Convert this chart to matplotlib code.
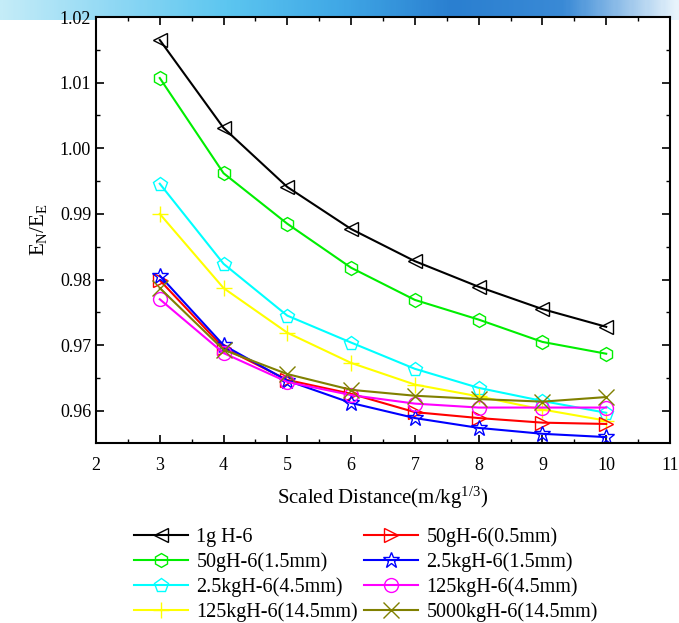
import numpy as np
import matplotlib
matplotlib.use("Agg")
import matplotlib.pyplot as plt
from matplotlib.ticker import MultipleLocator
from matplotlib.colors import LinearSegmentedColormap

plt.rcParams['font.family'] = ['Liberation Serif', 'DejaVu Serif']
plt.rcParams['mathtext.fontset'] = 'custom'
plt.rcParams['mathtext.rm'] = 'Liberation Serif'
plt.rcParams['mathtext.it'] = 'Liberation Serif'

distance = [3, 4, 5, 6, 7, 8, 9, 10]

g1_h6 = [1.0165, 1.0031, 0.9941, 0.9877, 0.9828, 0.9789, 0.9755, 0.9728]
g50_05 = [0.9799, 0.9696, 0.9647, 0.9626, 0.9598, 0.9589, 0.9582, 0.9580]
g50_15 = [1.0107, 0.9962, 0.9885, 0.9818, 0.9769, 0.9739, 0.9705, 0.9687]
kg25_15 = [0.9806, 0.9700, 0.9646, 0.9612, 0.9589, 0.9574, 0.9565, 0.9560]
kg25_45 = [0.9946, 0.9824, 0.9745, 0.9704, 0.9664, 0.9635, 0.9615, 0.9597]
kg125_45 = [0.9770, 0.9688, 0.9644, 0.9624, 0.9611, 0.9605, 0.9605, 0.9605]
kg125_145 = [0.9900, 0.9787, 0.9719, 0.9673, 0.9640, 0.9622, 0.9602, 0.9585]
kg5000_145 = [0.9787, 0.9693, 0.9656, 0.9632, 0.9623, 0.9618, 0.9614, 0.9621]

fig = plt.figure(figsize=(6.79, 6.23), dpi=100)

# slide header gradient
bg = fig.add_axes([0, 1 - 20 / 623, 1, 20 / 623])
cmap = LinearSegmentedColormap.from_list(
    'hdr', ['#c4ecf8', '#8fd8f4', '#5cc6f0', '#40a8e6', '#2a7fd0', '#3a8ad6', '#e8f4fc'])
grad = np.linspace(0, 1, 300).reshape(1, -1)
bg.imshow(grad, aspect='auto', cmap=cmap, extent=[0, 1, 0, 1])
bg.axis('off')

ax = fig.add_axes([96 / 679, 1 - 443 / 623, (670 - 96) / 679, (443 - 17) / 623])

series = [
    (g1_h6, '1g H-6', 'black', '<'),
    (g50_15, '50gH-6(1.5mm)', '#00ee00', 'h'),
    (kg25_45, '2.5kgH-6(4.5mm)', 'cyan', 'p'),
    (kg125_145, '125kgH-6(14.5mm)', '#ffff00', '+'),
    (g50_05, '50gH-6(0.5mm)', 'red', '>'),
    (kg25_15, '2.5kgH-6(1.5mm)', 'blue', '*'),
    (kg125_45, '125kgH-6(4.5mm)', 'magenta', 'o'),
    (kg5000_145, '5000kgH-6(14.5mm)', '#808000', 'x'),
]

for vals, label, color, mk in series:
    size = 12 if mk in '*+x' else 10
    ax.plot(distance, vals, color=color, lw=1.5, marker=mk, markersize=size,
            markerfacecolor='none', markeredgecolor=color, markeredgewidth=1.0,
            label=label)

ax.set_xlim(2, 11)
ax.set_ylim(0.9551, 1.02)
ax.xaxis.set_major_locator(MultipleLocator(1))
ax.xaxis.set_minor_locator(MultipleLocator(0.5))
ax.yaxis.set_major_locator(MultipleLocator(0.01))
ax.yaxis.set_minor_locator(MultipleLocator(0.005))
ax.yaxis.set_major_formatter(plt.FuncFormatter(lambda v, p: f'{v:.2f}'))
ax.tick_params(which='both', direction='in', top=True, right=True, labelsize=13)
ax.tick_params(which='major', length=6, width=1.2)
ax.tick_params(which='minor', length=3, width=1.0)
ax.tick_params(axis='x', pad=10)
for s in ax.spines.values():
    s.set_linewidth(1.5)

ax.set_xlabel('Scaled Distance(m/kg$^{1/3}$)', fontsize=15, labelpad=8)
ax.set_ylabel('E$_{\\mathregular{N}}$/E$_{\\mathregular{E}}$', fontsize=15, labelpad=8)

ax.legend(ncol=2, loc='upper left', bbox_to_anchor=(0.052, -0.18), frameon=False,
          fontsize=14.5, handlelength=2.7, handletextpad=0.4, columnspacing=0.3,
          labelspacing=0.25, borderaxespad=0)

fig.savefig('out.png', dpi=100)
